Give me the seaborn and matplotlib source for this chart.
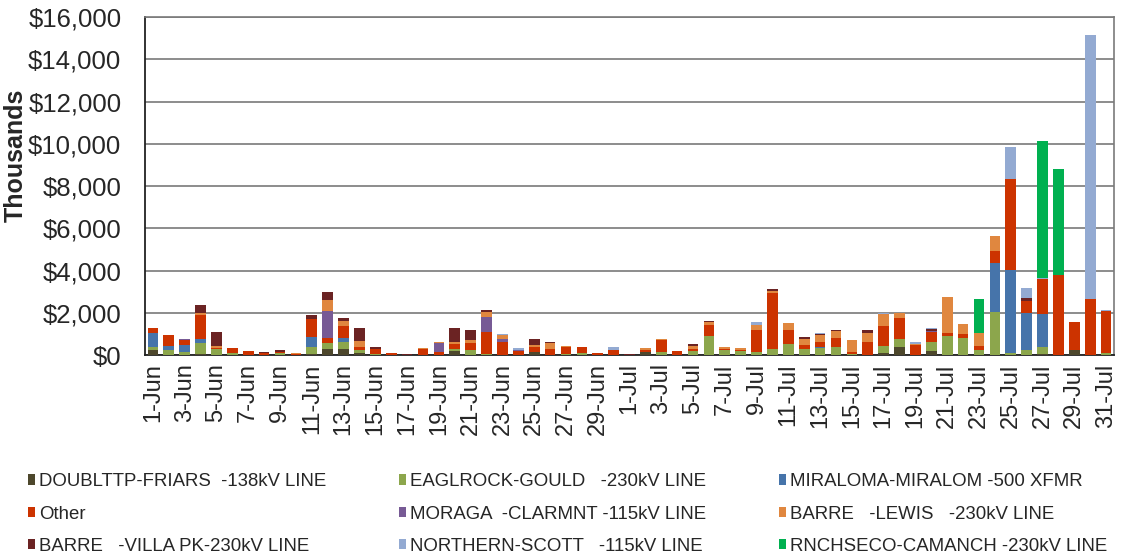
import numpy as np
import pandas as pd
import matplotlib
matplotlib.use("Agg")
import matplotlib.pyplot as plt
from matplotlib.patches import Patch
import seaborn as sns

# dias (1-Jun .. 31-Jul)
dias = [f"{d}-Jun" for d in range(1, 31)] + [f"{d}-Jul" for d in range(1, 32)]

# valores em milhares de dólares
doubl = [240, 0, 0, 50, 0, 0, 0, 0, 0, 0,
         60, 280, 280, 80, 0, 0, 0, 0, 0, 200,
         0, 0, 0, 0, 160, 0, 0, 0, 0, 0,
         0, 160, 0, 0, 0, 0, 0, 0, 0, 0,
         0, 0, 0, 0, 0, 0, 110, 400, 0, 200,
         0, 0, 0, 0, 0, 0, 30, 0, 220, 0, 0]
eagl = [160, 220, 140, 500, 270, 100, 0, 20, 80, 0,
        300, 270, 320, 160, 50, 0, 0, 0, 0, 100,
        240, 30, 0, 0, 0, 0, 30, 100, 0, 0,
        0, 0, 130, 0, 170, 900, 240, 190, 140, 280,
        520, 280, 320, 380, 40, 0, 330, 360, 0, 430,
        900, 800, 240, 2020, 80, 240, 350, 0, 0, 0, 110]
miral = [630, 200, 350, 200, 0, 0, 0, 0, 0, 0,
         470, 0, 220, 0, 0, 0, 0, 0, 0, 0,
         0, 0, 0, 0, 0, 0, 0, 0, 0, 0,
         0, 0, 0, 0, 0, 0, 0, 0, 0, 0,
         0, 0, 80, 0, 0, 0, 0, 0, 0, 0,
         0, 0, 0, 2350, 3950, 1740, 1550, 0, 0, 0, 0]
other = [270, 520, 240, 1140, 80, 220, 170, 70, 80, 70,
         880, 270, 570, 160, 220, 100, 0, 300, 140, 240,
         350, 1070, 630, 200, 200, 300, 330, 300, 100, 220,
         20, 80, 590, 190, 130, 500, 60, 50, 1060, 2670,
         680, 200, 200, 440, 110, 630, 950, 1000, 460, 440,
         140, 200, 200, 570, 4280, 600, 1660, 3810, 1330, 2640, 1960]
moraga = [0, 0, 30, 0, 0, 0, 0, 0, 0, 0,
          0, 1260, 0, 0, 0, 0, 0, 0, 440, 0,
          0, 710, 130, 60, 0, 0, 0, 0, 0, 0,
          0, 0, 0, 0, 0, 0, 0, 0, 0, 0,
          0, 0, 0, 0, 0, 0, 0, 0, 0, 80,
          0, 0, 0, 0, 0, 0, 0, 0, 0, 0, 0]
lewis = [0, 0, 0, 100, 80, 0, 0, 0, 0, 30,
         0, 520, 200, 270, 0, 0, 0, 20, 30, 80,
         100, 240, 170, 0, 100, 250, 50, 0, 0, 0,
         0, 100, 20, 0, 130, 170, 80, 80, 220, 100,
         320, 280, 350, 300, 540, 430, 540, 220, 80, 0,
         1690, 470, 600, 700, 0, 0, 0, 0, 0, 0, 0]
villa = [0, 0, 0, 400, 680, 0, 0, 60, 60, 0,
         200, 360, 140, 600, 100, 0, 40, 0, 0, 650,
         490, 60, 0, 0, 300, 60, 0, 0, 0, 0,
         20, 0, 0, 0, 100, 50, 0, 0, 0, 60,
         0, 100, 60, 80, 0, 100, 0, 0, 0, 60,
         0, 0, 0, 0, 0, 110, 0, 0, 0, 0, 0]
north = [0, 0, 0, 0, 0, 0, 0, 0, 0, 0,
         0, 0, 0, 0, 0, 0, 0, 0, 0, 0,
         0, 0, 60, 50, 0, 0, 0, 0, 0, 160,
         0, 0, 0, 0, 0, 0, 0, 0, 160, 0,
         0, 0, 30, 0, 0, 30, 50, 0, 80, 60,
         0, 0, 0, 0, 1520, 470, 40, 0, 0, 12510, 60]
rnch = [0] * 52 + [1630, 0, 0, 0, 6520, 4990, 0, 0, 0]

series = ["DOUBLTTP-FRIARS  -138kV LINE", "EAGLROCK-GOULD   -230kV LINE",
          "MIRALOMA-MIRALOM -500 XFMR", "Other", "MORAGA  -CLARMNT -115kV LINE",
          "BARRE   -LEWIS   -230kV LINE", "BARRE   -VILLA PK-230kV LINE",
          "NORTHERN-SCOTT   -115kV LINE", "RNCHSECO-CAMANCH -230kV LINE"]
cores = ["#4d472c", "#8ca64c", "#4674aa", "#cc3300", "#775a95",
         "#e0873f", "#6b2323", "#93aad2", "#00b050"]

valores = [doubl, eagl, miral, other, moraga, lewis, villa, north, rnch]

sns.set_style("white")
plt.rcParams["font.family"] = ["Liberation Sans", "DejaVu Sans"]

fig = plt.figure(figsize=(11.22, 5.54), dpi=100)
ax = fig.add_axes([0.1292, 0.3592, 0.8637, 0.6101])

acumulado = np.cumsum(np.array(valores), axis=0)
for k in range(len(series) - 1, -1, -1):
    df = pd.DataFrame({"dia": dias, "valor": acumulado[k]})
    sns.barplot(data=df, x="dia", y="valor", color=cores[k], saturation=1,
                width=0.67, errorbar=None, linewidth=0, ax=ax, zorder=3)

ax.set_ylim(0, 16000)
ax.set_xlim(-0.5, len(dias) - 0.5)
yt = np.arange(0, 16001, 2000)
ax.set_yticks(yt)
ax.set_yticklabels([f"${v:,.0f}" for v in yt], fontsize=18.5)
ax.yaxis.grid(True, color="#6e6e6e", linewidth=1.1, zorder=0)
ax.set_axisbelow(True)

# ticks nas divisas das categorias, rótulos a cada dois dias
ax.set_xticks(np.arange(-0.5, len(dias), 1))
ax.set_xticklabels([])
ax.set_xticks(np.arange(0, len(dias), 2), minor=True)
ax.set_xticklabels(dias[::2], minor=True, rotation=90, fontsize=17)
ax.tick_params(axis="x", which="major", length=3.6, width=1, color="#333333", direction="out")
ax.tick_params(axis="x", which="minor", length=0, pad=6)
ax.tick_params(axis="y", length=3, width=1, color="#333333", direction="out", pad=14)

for lado in ["left", "bottom"]:
    ax.spines[lado].set_color("#222222")
    ax.spines[lado].set_linewidth(1.3)
for lado in ["top", "right"]:
    ax.spines[lado].set_color("#7a7a7a")
    ax.spines[lado].set_linewidth(1.2)

ax.set_xlabel("")
ax.set_ylabel("Thousands", fontsize=18, fontweight="bold")
ax.yaxis.set_label_coords(-0.121, 0.59)

# legenda em 3 colunas (ordem por linha como no original)
ordem = [0, 3, 6, 1, 4, 7, 2, 5, 8]
handles = [Patch(facecolor=cores[i], edgecolor="none", label=series[i]) for i in ordem]
fig.legend(handles=handles, ncol=3, loc="upper left", bbox_to_anchor=(0.010, 0.176),
           bbox_transform=fig.transFigure, frameon=False, fontsize=13.4,
           handlelength=0.4, handleheight=0.5, handletextpad=0.2,
           columnspacing=3.9, labelspacing=0.82)

fig.savefig("out.png", dpi=100)
